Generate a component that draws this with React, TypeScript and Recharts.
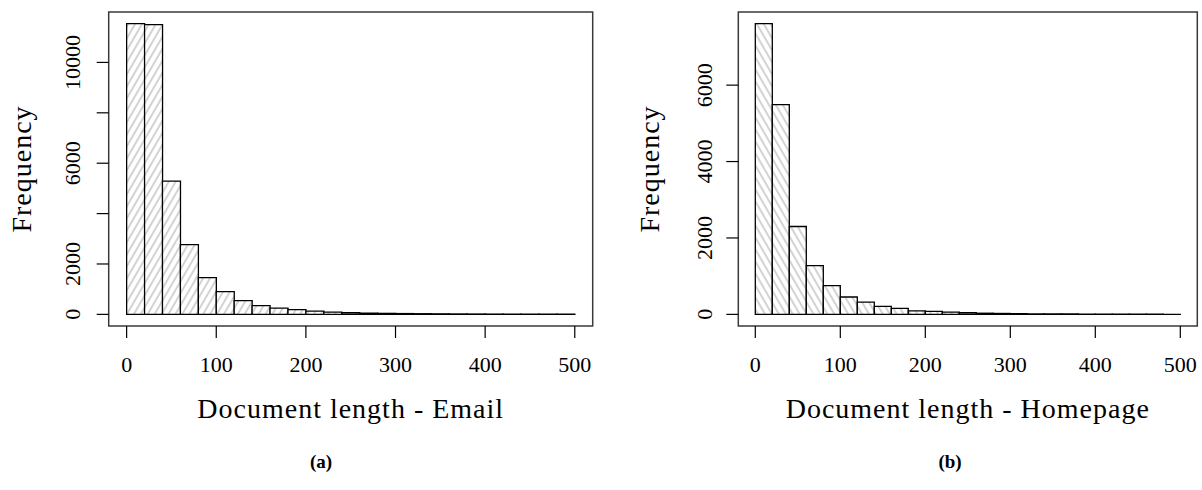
import React from 'react';
import { BarChart, Bar, XAxis, YAxis, ReferenceArea, Label } from 'recharts';

// histogram bins (left edge of each 20-wide bin)
const BIN_STARTS = [0, 20, 40, 60, 80, 100, 120, 140, 160, 180, 200, 220, 240, 260, 280, 300, 320, 340, 360, 380, 400, 420, 440, 460, 480];
const BIN_WIDTH = 20;

const EMAIL_COUNTS = [11540, 11500, 5290, 2770, 1455, 900, 545, 345, 250, 190, 130, 92, 65, 52, 40, 32, 26, 21, 17, 14, 11, 9, 7, 6, 4];
const HOMEPAGE_COUNTS = [7610, 5490, 2300, 1275, 750, 455, 322, 210, 155, 94, 79, 60, 42, 30, 24, 19, 15, 12, 10, 8, 6, 5, 4, 3, 2];

const X_TICKS = [0, 100, 200, 300, 400, 500];
const EMAIL_Y_TICKS = [0, 2000, 4000, 6000, 8000, 10000];
const EMAIL_Y_LABELS = [0, 2000, 6000, 10000];
const HOMEPAGE_Y_TICKS = [0, 2000, 4000, 6000];
const HOMEPAGE_Y_LABELS = [0, 2000, 4000, 6000];

const SERIF = '"Liberation Serif", "Times New Roman", serif';
const W = 601;
const H = 490;

interface PanelProps {
  counts: number[];
  yTicks: number[];
  yLabels: number[];
  xLabel: string;
  patternId: string;
  angle: number;
  plotLeft: number;
  plotRight: number;
  tickBaseline: number;
  titleBaseline: number;
}

const Histogram: React.FC<PanelProps> = ({ counts, yTicks, yLabels, xLabel, patternId, angle, plotLeft, plotRight, tickBaseline, titleBaseline }) => {
  const data = BIN_STARTS.map((b, i) => ({ mid: b + BIN_WIDTH / 2, count: counts[i] }));
  const maxCount = Math.max(...counts);
  const yDomain = [-0.04 * maxCount, 1.04 * maxCount];

  const XTick = (props: any) => (
    <text x={props.x} y={372} textAnchor="middle" fontFamily={SERIF} fontSize={22} fill="#000">
      {props.payload.value}
    </text>
  );

  const YTick = (props: any) => {
    if (!yLabels.includes(props.payload.value)) return <g />;
    return (
      <text transform={`translate(${tickBaseline},${props.y}) rotate(-90)`} textAnchor="middle" fontFamily={SERIF} fontSize={22} fill="#000">
        {props.payload.value}
      </text>
    );
  };

  return (
    <BarChart width={W} height={H} data={data} margin={{ top: 12, right: plotRight, left: 0, bottom: 0 }} barCategoryGap={0} barGap={0}>
      <defs>
        <pattern id={patternId} patternUnits="userSpaceOnUse" width={6} height={6} patternTransform={`rotate(${angle})`}>
          <rect x={0} y={0} width={6} height={6} fill="#fff" />
          <line x1={3} y1={0} x2={3} y2={6} stroke="#a8a8a8" strokeWidth={1} />
        </pattern>
      </defs>
      <XAxis
        dataKey="mid"
        type="number"
        domain={[-20, 520]}
        ticks={X_TICKS}
        allowDataOverflow
        height={H - 326}
        axisLine={false}
        tickSize={12}
        tickLine={{ stroke: '#000', strokeWidth: 1.2 }}
        tick={<XTick />}
        interval={0}
      >
        <Label
          content={(p: any) => (
            <text x={p.viewBox.x + p.viewBox.width / 2} y={418} textAnchor="middle" fontFamily={SERIF} fontSize={28} letterSpacing={1} fill="#000">
              {xLabel}
            </text>
          )}
        />
      </XAxis>
      <YAxis
        type="number"
        domain={yDomain}
        ticks={yTicks}
        allowDataOverflow
        width={plotLeft}
        axisLine={false}
        tickSize={12}
        tickLine={{ stroke: '#000', strokeWidth: 1.2 }}
        tick={<YTick />}
        interval={0}
      >
        <Label
          content={(p: any) => (
            <text transform={`translate(${titleBaseline},${p.viewBox.y + p.viewBox.height / 2}) rotate(-90)`} textAnchor="middle" fontFamily={SERIF} fontSize={28} letterSpacing={1} fill="#000">
              Frequency
            </text>
          )}
        />
      </YAxis>
      <Bar dataKey="count" fill={`url(#${patternId})`} stroke="#000" strokeWidth={1.3} isAnimationActive={false} />
      <ReferenceArea x1={-20} x2={520} y1={yDomain[0]} y2={yDomain[1]} fill="none" fillOpacity={0} stroke="#3a3a3a" strokeWidth={1.5} ifOverflow="visible" />
    </BarChart>
  );
};

const App: React.FC = () => {
  return (
    <div style={{ position: 'absolute', left: 0, top: 0, width: 1202, height: 490, background: '#fff' }}>
      <div style={{ position: 'absolute', left: 0, top: 0 }}>
        <Histogram
          counts={EMAIL_COUNTS}
          yTicks={EMAIL_Y_TICKS}
          yLabels={EMAIL_Y_LABELS}
          xLabel="Document length - Email"
          patternId="hatchEmail"
          angle={30}
          plotLeft={108.7}
          plotRight={8.3}
          tickBaseline={80}
          titleBaseline={31}
        />
      </div>
      <div style={{ position: 'absolute', left: 601, top: 0 }}>
        <Histogram
          counts={HOMEPAGE_COUNTS}
          yTicks={HOMEPAGE_Y_TICKS}
          yLabels={HOMEPAGE_Y_LABELS}
          xLabel="Document length - Homepage"
          patternId="hatchHomepage"
          angle={-30}
          plotLeft={137.3}
          plotRight={4.7}
          tickBaseline={110.5}
          titleBaseline={58}
        />
      </div>
      <div style={{ position: 'absolute', left: 291, top: 450, width: 60, textAlign: 'center', fontFamily: SERIF, fontWeight: 'bold', fontSize: 19, lineHeight: '24px' }}>(a)</div>
      <div style={{ position: 'absolute', left: 920, top: 450, width: 60, textAlign: 'center', fontFamily: SERIF, fontWeight: 'bold', fontSize: 19, lineHeight: '24px' }}>(b)</div>
    </div>
  );
};

export default App;
